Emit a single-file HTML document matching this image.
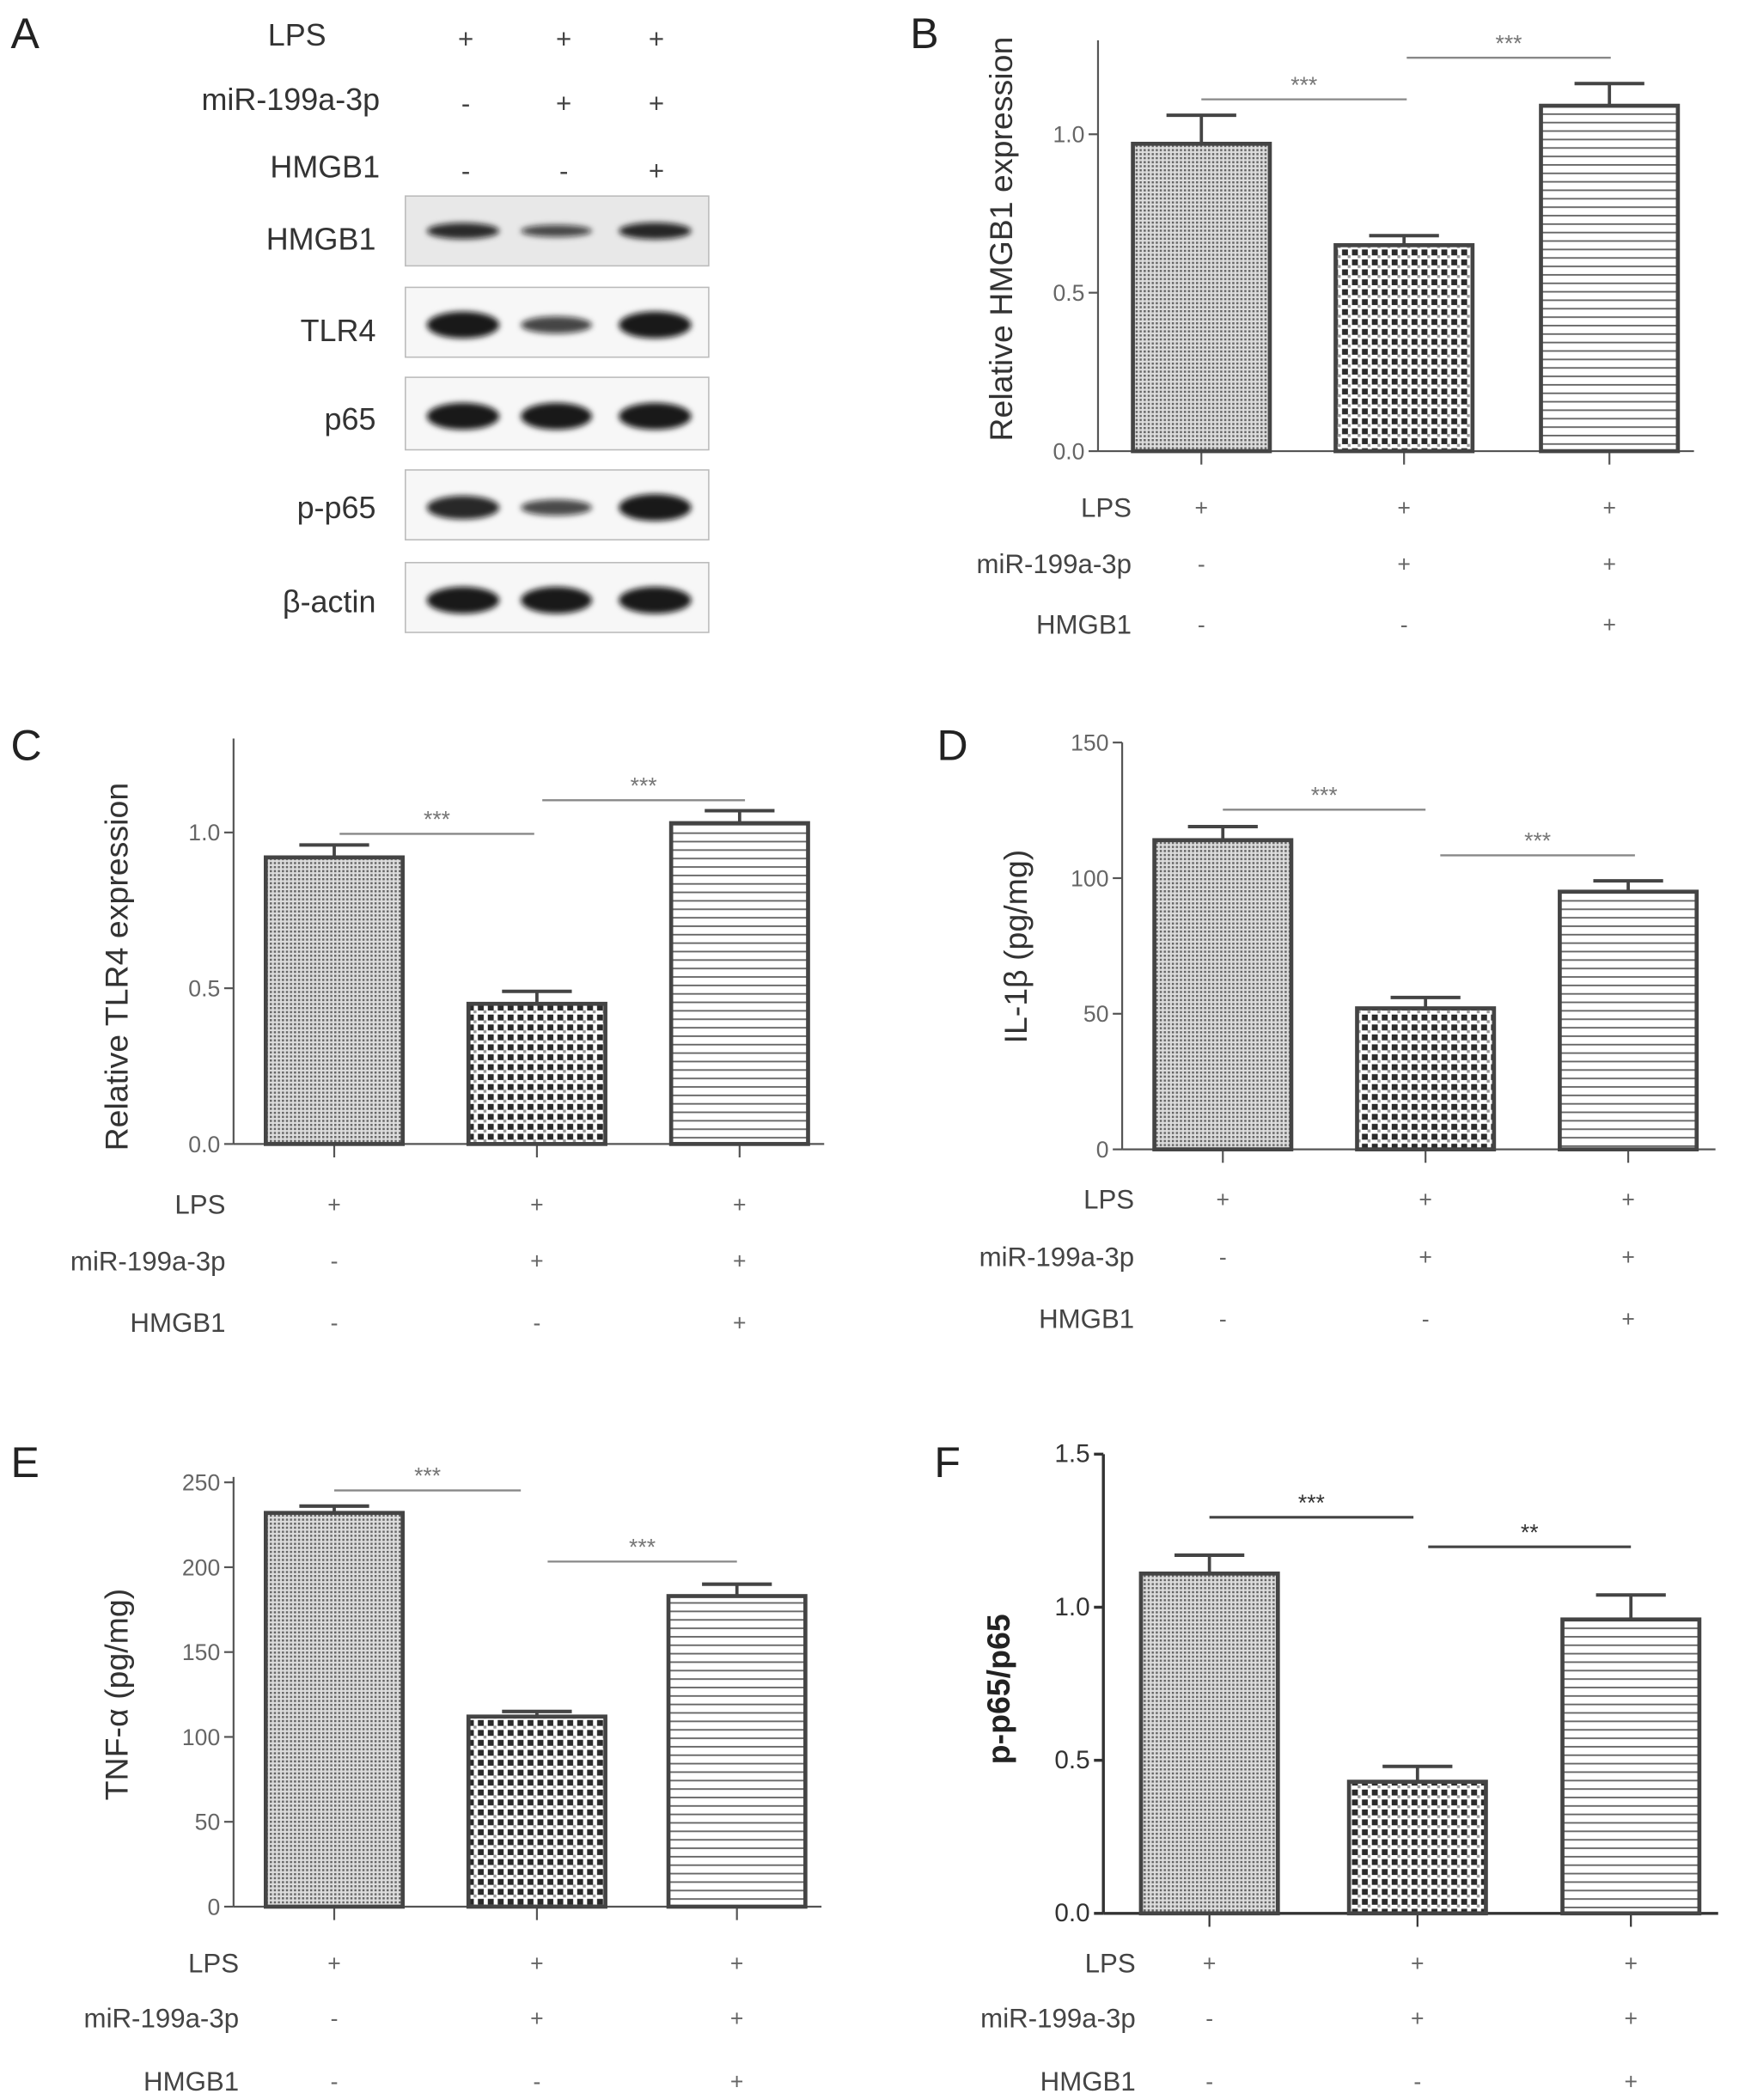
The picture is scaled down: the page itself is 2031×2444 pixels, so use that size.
<!DOCTYPE html>
<html><head><meta charset="utf-8"><style>
html,body{margin:0;padding:0;background:#fff}
svg{display:block}
text{font-family:"Liberation Sans",sans-serif;fill:#444}
</style></head><body>
<svg id="fig" width="2031" height="2444" viewBox="0 0 1300 1564" preserveAspectRatio="none" xmlns="http://www.w3.org/2000/svg">
<defs>
<pattern id="pDots" width="3" height="3" patternUnits="userSpaceOnUse"><rect width="3" height="3" fill="#ddd"/><rect width="1.6" height="1.6" fill="#666"/></pattern>
<pattern id="pCheck" width="7.4" height="7.4" patternUnits="userSpaceOnUse"><rect width="7.4" height="7.4" fill="#fff"/><rect x="0.8" y="0.8" width="4.4" height="4.4" fill="#2a2a2a"/><rect x="5" y="5" width="2.2" height="2.2" fill="#999"/></pattern>
<pattern id="pLines" width="6" height="6.3" patternUnits="userSpaceOnUse"><rect width="6" height="6.3" fill="#fff"/><rect y="2.5" width="6" height="1.2" fill="#666"/></pattern>
<filter id="blur" x="-20%" y="-100%" width="140%" height="300%"><feGaussianBlur stdDeviation="2.2"/></filter>
</defs>
<g id="panelA"></g>
<g id="charts"></g>
</svg>
<script>
const NS="http://www.w3.org/2000/svg";
const svg=document.getElementById('fig');
function mk(tag,attrs,parent,txt){const e=document.createElementNS(NS,tag);for(const k in attrs)e.setAttribute(k,attrs[k]);if(txt!==undefined)e.textContent=txt;(parent||svg).appendChild(e);return e;}

// ---- data ----
const categories=["LPS","miR-199a-3p","HMGB1"];
const conditions=[["+","-","-"],["+","+","-"],["+","+","+"]];
const hmgb1Values=[0.97,0.65,1.09];
const hmgb1Errors=[0.09,0.03,0.07];
const tlr4Values=[0.92,0.45,1.03];
const tlr4Errors=[0.04,0.04,0.04];
const il1bValues=[114,52,95];
const il1bErrors=[5,4,4];
const tnfValues=[232,112,183];
const tnfErrors=[4,3,7];
const pp65Values=[1.11,0.43,0.96];
const pp65Errors=[0.06,0.05,0.08];
const ticksB=["0.0","0.5","1.0"];
const ticksD=["0","50","100","150"];
const ticksE=["0","50","100","150","200","250"];
const ticksF=["0.0","0.5","1.0","1.5"];
const bandIntensity=[[0.8,0.5,0.85],[1,0.55,1],[1,1,1],[0.85,0.5,1],[1,1,1]];

const fills=["url(#pDots)","url(#pCheck)","url(#pLines)"];

function panel(o){
  const g=mk('g',{},document.getElementById('charts'));
  
  
  const y=v=>o.y0-(v-o.vmin)/(o.vmax-o.vmin)*(o.y0-o.yTop);
  const ac=o.dark?'#333':'#555', sw=o.dark?2.2:1.4;
  const L=mk('text',{x:o.letter[0],y:o.letter[1],'font-size':32,style:'fill:#222'},g,o.id.toUpperCase());
  
  const ya=mk('line',{x1:o.ax,x2:o.ax,y1:o.axTop,y2:o.y0,stroke:ac,'stroke-width':sw},g);
  
  const xa=mk('line',{x1:o.ax,x2:o.axRight,y1:o.y0,y2:o.y0,stroke:ac,'stroke-width':sw},g);
  
  o.ticks.forEach(t=>{const v=parseFloat(t),yy=y(v);
    mk('line',{x1:o.ax-7,x2:o.ax,y1:yy,y2:yy,stroke:ac,'stroke-width':sw},g);
    const tt=mk('text',{x:o.ax-10,y:yy+6,'text-anchor':'end','font-size':o.dark?19:17,style:o.dark?'fill:#333':'fill:#666'},g,t);
    
  });
  const yt=mk('text',{x:0,y:0,'text-anchor':'middle','font-size':24,transform:`translate(${o.titleX},${o.titleY}) rotate(-90)`,style:o.dark?'fill:#222;font-weight:bold':'fill:#333'},g,o.title);
  
  o.vals.forEach((v,i)=>{
    const cx=o.cx[i],w=o.bw;
    mk('line',{x1:cx,x2:cx,y1:o.y0,y2:o.y0+10,stroke:ac,'stroke-width':1.4},g);
    const eTop=y(v+o.errs[i]);
    mk('line',{x1:cx,x2:cx,y1:y(v),y2:eTop,stroke:'#444','stroke-width':2.4},g);
    const cap=mk('line',{x1:cx-26,x2:cx+26,y1:eTop,y2:eTop,stroke:'#444','stroke-width':2.6},g);
    
    const r=mk('rect',{x:cx-w/2,y:y(v),width:w,height:o.y0-y(v),fill:fills[i],stroke:'#444','stroke-width':3},g);
    
  });
  o.sig.forEach(s=>{
    const l=mk('line',{x1:s[0],x2:s[1],y1:s[2],y2:s[2],stroke:o.dark?'#444':'#888','stroke-width':o.dark?2:1.5},g);
    
    const t=mk('text',{x:(s[0]+s[1])/2,y:s[2]-5,'text-anchor':'middle','font-size':17,style:o.dark?'fill:#333':'fill:#777'},g,s[3]);
    
  });
  categories.forEach((c,r)=>{
    const t=mk('text',{x:o.labX,y:o.labY[r]+7,'text-anchor':'end','font-size':20,style:'fill:#444'},g,c);
    
    conditions.forEach((cond,i)=>{
      const s=mk('text',{x:o.cx[i],y:o.labY[r]+6,'text-anchor':'middle','font-size':17,style:'fill:#666'},g,cond[r]);
      
    });
  });
}

panel({id:'b',letter:[678,36],ax:818,axTop:30,axRight:1262,y0:336,yTop:100,vmin:0,vmax:1,ticks:ticksB,
  title:'Relative HMGB1 expression',titleX:754,titleY:178,vals:hmgb1Values,errs:hmgb1Errors,cx:[895,1046,1199],bw:102,
  sig:[[895,1048,74,'***'],[1048,1200,43,'***']],labX:843,labY:[378,420,465]});
panel({id:'c',letter:[8,566],ax:174,axTop:550,axRight:614,y0:852,yTop:620,vmin:0,vmax:1,ticks:ticksB,
  title:'Relative TLR4 expression',titleX:95,titleY:720,vals:tlr4Values,errs:tlr4Errors,cx:[249,400,551],bw:102,
  sig:[[253,398,621,'***'],[404,555,596,'***']],labX:168,labY:[897,939,985]});
panel({id:'d',letter:[698,566],ax:836,axTop:553,axRight:1278,y0:856,yTop:553,vmin:0,vmax:150,ticks:ticksD,
  title:'IL-1β (pg/mg)',titleX:765,titleY:705,vals:il1bValues,errs:il1bErrors,cx:[911,1062,1213],bw:102,
  sig:[[911,1062,603,'***'],[1073,1218,637,'***']],labX:845,labY:[893,936,982]});
panel({id:'e',letter:[8,1100],ax:174,axTop:1100,axRight:612,y0:1420,yTop:1104,vmin:0,vmax:250,ticks:ticksE,
  title:'TNF-α (pg/mg)',titleX:95,titleY:1262,vals:tnfValues,errs:tnfErrors,cx:[249,400,549],bw:102,
  sig:[[249,388,1110,'***'],[408,549,1163,'***']],labX:178,labY:[1462,1503,1550]});
panel({id:'f',letter:[696,1100],ax:822,axTop:1083,axRight:1280,y0:1425,yTop:1083,vmin:0,vmax:1.5,ticks:ticksF,dark:true,
  title:'p-p65/p65',titleX:752,titleY:1258,vals:pp65Values,errs:pp65Errors,cx:[901,1056,1215],bw:102,
  sig:[[901,1053,1130,'***'],[1064,1215,1152,'**']],labX:846,labY:[1462,1503,1550]});

// ---- Panel A ----
const A=document.getElementById('panelA');
const la=mk('text',{x:8,y:36,'font-size':32,style:'fill:#222'},A,'A');

const signX=[347,420,489];
[[26,'LPS'],[74,'miR-199a-3p'],[124,'HMGB1']].forEach((r,ri)=>{
  const t=mk('text',{x:r[1]==='LPS'?243:283,y:r[0]+8,'text-anchor':'end','font-size':23,style:'fill:#333'},A,r[1]);
  
  signX.forEach((x,i)=>{const s=mk('text',{x:x,y:r[0]+10,'text-anchor':'middle','font-size':20,style:'fill:#444'},A,conditions[i][ri]);
    });
});
const blots=[[146,198,'HMGB1',178],[214,266,'TLR4',246],[281,335,'p65',312],[350,402,'p-p65',378],[419,471,'β-actin',448]];
const bandX=[[318,372],[388,441],[461,515]];
blots.forEach((b,bi)=>{
  const r=mk('rect',{x:302,y:b[0],width:226,height:b[1]-b[0],fill:bi===0?'#e8e8e8':'#f7f7f7',stroke:'#bbb','stroke-width':1},A);
  
  const t=mk('text',{x:280,y:b[3]+8,'text-anchor':'end','font-size':23,style:'fill:#333'},A,b[2]);
  
  bandX.forEach((bx,i)=>{
    const inten=bandIntensity[bi][i];
    const cy=(b[0]+b[1])/2+(bi===0?0:2);
    const h=(bi===0?5:8)*inten+2;
    const e=mk('ellipse',{cx:(bx[0]+bx[1])/2,cy:cy,rx:(bx[1]-bx[0])/2,ry:h,fill:'#111','fill-opacity':0.55+0.4*inten,filter:'url(#blur)'},A);
    
  });
});
</script>
</body></html>
